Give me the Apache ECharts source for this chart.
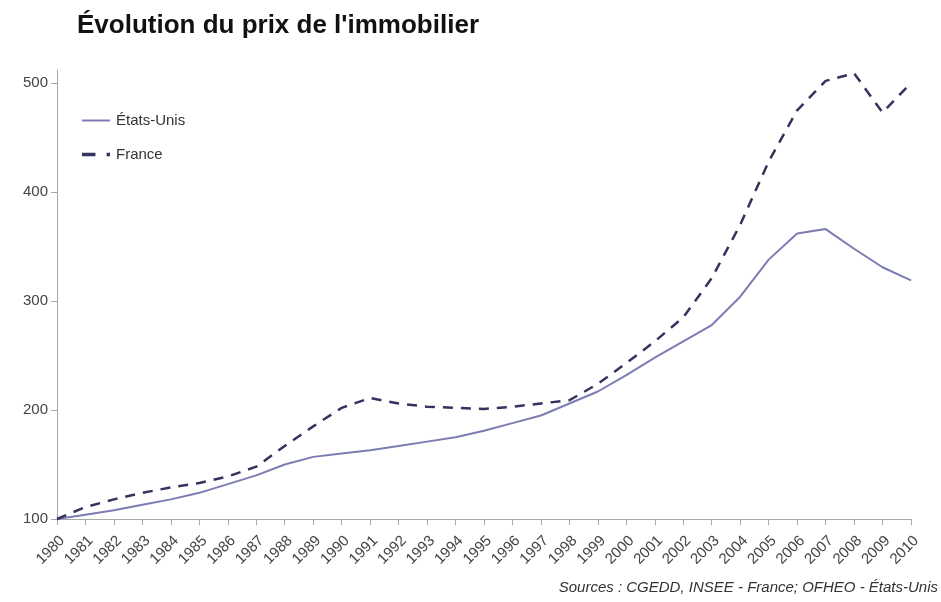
<!DOCTYPE html>
<html>
<head>
<meta charset="utf-8">
<script src="https://cdn.jsdelivr.net/npm/echarts@6/dist/echarts.min.js"></script>
<style>
  html, body { margin: 0; padding: 0; background: #fff; }
  #chart { width: 941px; height: 602px; }
</style>
</head>
<body>
<div id="chart"></div>
<script>
// Years on the horizontal axis
const years = ['1980','1981','1982','1983','1984','1985','1986','1987','1988','1989',
  '1990','1991','1992','1993','1994','1995','1996','1997','1998','1999',
  '2000','2001','2002','2003','2004','2005','2006','2007','2008','2009','2010'];

// Price index, base 100 in 1980
const etatsUnis = [100,104,108,113,118,124,132,140,150,157,
  160,163,167,171,175,181,188,195,206,217,
  232,248,263,278,304,338,362,366,348,331,319];

const france = [100,111,118,124,129,133,139,148,167,185,
  202,211,206,203,202,201,203,206,209,224,
  243,263,285,321,370,428,475,502,509,473,500];

// Value-axis ticks
const yTicks = [100, 200, 300, 400, 500];

const titleText = "Évolution du prix de l'immobilier";
const sourceText = 'Sources : CGEDD, INSEE - France; OFHEO - États-Unis';

const chart = echarts.init(document.getElementById('chart'));
const font = 'Liberation Sans, Arial, sans-serif';
const axisGrey = '#a8a8a8';
const usColor = '#7c7cb4';
const frColor = '#33335e';

chart.setOption({
  backgroundColor: '#ffffff',
  animation: false,
  title: [{
    text: titleText,
    left: 72, top: 8,
    textStyle: { fontFamily: font, fontSize: 26, fontWeight: 'bold', color: '#111' }
  }, {
    text: sourceText,
    right: -2, top: 575,
    textStyle: { fontFamily: font, fontSize: 15, fontStyle: 'italic', fontWeight: 'normal', color: '#333' }
  }],
  legend: {
    orient: 'vertical',
    left: 77, top: 108,
    itemWidth: 28, itemHeight: 14, itemGap: 19,
    textStyle: { fontFamily: font, fontSize: 15, color: '#333', padding: [0, 0, 0, 1] },
    data: [
      { name: 'États-Unis', icon: 'path://M0,0 L28,0 L28,2 L0,2 Z',
        itemStyle: { color: usColor } },
      { name: 'France', icon: 'path://M0,0 L12,0 L12,3 L0,3 Z M22,0 L25,0 L25,3 L22,3 Z',
        itemStyle: { color: frColor } }
    ]
  },
  grid: { left: 57, right: 30, top: 70, bottom: 83, containLabel: false },
  xAxis: {
    type: 'category',
    data: years,
    boundaryGap: false,
    axisLine: { lineStyle: { color: axisGrey, width: 1 } },
    axisTick: { show: true, length: 6, lineStyle: { color: axisGrey }, alignWithLabel: true },
    axisLabel: {
      interval: 0, rotate: 45, margin: 14, verticalAlign: 'top',
      fontFamily: font, fontSize: 15, color: '#444'
    },
    splitLine: { show: false }
  },
  yAxis: {
    type: 'value',
    min: 100, max: 512, interval: 100,
    axisLine: { show: true, lineStyle: { color: axisGrey, width: 1 } },
    axisTick: { show: true, length: 6, lineStyle: { color: axisGrey },
      customValues: yTicks },
    axisLabel: {
      margin: 9, fontFamily: font, fontSize: 15, color: '#444',
      customValues: yTicks
    },
    splitLine: { show: false }
  },
  series: [{
    name: 'États-Unis',
    type: 'line',
    data: etatsUnis,
    symbol: 'none',
    lineStyle: { color: usColor, width: 2 },
    itemStyle: { color: usColor }
  }, {
    name: 'France',
    type: 'line',
    data: france,
    symbol: 'none',
    lineStyle: { color: frColor, width: 2.5, type: [10, 8] },
    itemStyle: { color: frColor }
  }]
});
</script>
</body>
</html>
